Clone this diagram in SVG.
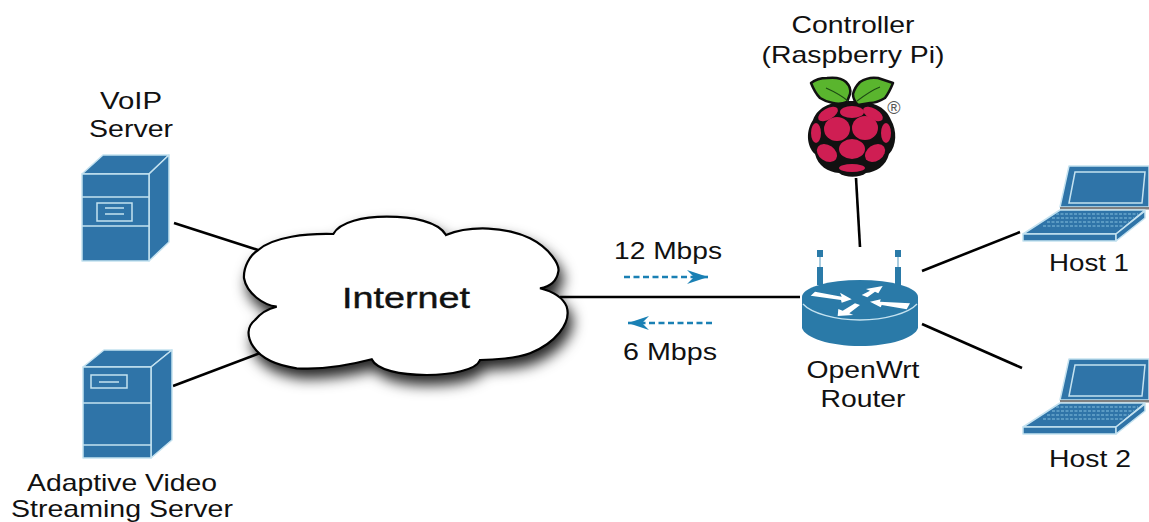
<svg xmlns="http://www.w3.org/2000/svg" width="1149" height="522" viewBox="0 0 1149 522">
<style>
text{font-family:"Liberation Sans",Arial,sans-serif;fill:#111;font-size:24px;text-anchor:middle}
.b{fill:#2f74a8;stroke:#c4e2f0;stroke-width:1.5;stroke-linejoin:round}
.l{fill:none;stroke:#c4e2f0;stroke-width:1.5}
.c{stroke:#000;stroke-width:2.6;fill:none}
.d{stroke:#1a80b4;stroke-width:2.6;fill:none;stroke-dasharray:6 3.5}
.lf{fill:#5ab52e;stroke:#111;stroke-width:2.5;stroke-linejoin:round}
.r{fill:#cf1e53}
.w{fill:#fff}
.t{fill:#2a7aa8}
</style>
<defs>
<filter id="sh" x="-15%" y="-15%" width="130%" height="145%"><feDropShadow dx="4" dy="9" stdDeviation="7" flood-color="#000" flood-opacity=".85"/></filter>
<marker id="ah" markerWidth="24" markerHeight="16" refX="21" refY="8" orient="auto" markerUnits="userSpaceOnUse"><path d="M0 1L21 8L0 15L7 8Z" fill="#1a80b4"/></marker>
<g id="lap">
<path class="b" d="M1069 166H1149V207H1060Z"/>
<path class="l" d="M1075 172H1145L1142 203H1069Z"/>
<path d="M1060 207H1149V209.500H1060Z" fill="#808080"/>
<path class="b" d="M1060 210H1145L1116 234H1023Z"/>
<path d="M1056 214H1138M1052 218H1134M1047 222H1129M1043 226H1124" stroke="#6aa7cb" stroke-width="1.5" stroke-dasharray="3 1.5" fill="none"/>
<path class="b" d="M1023 234H1116V241H1023Z"/>
<path class="b" d="M1116 234L1145 211V218L1116 241Z"/>
</g>
</defs>
<rect width="1149" height="522" fill="#fff"/>
<g id="connectors">
<path class="c" d="M174 223L258 250"/>
<path class="c" d="M173 386L260 353"/>
<path class="c" d="M560 297H800"/>
<path class="c" d="M856 178L860 247"/>
<path class="c" d="M922 271L1020 232"/>
<path class="c" d="M922 324L1022 368"/>
</g>
<g id="internet">
<path d="M258.300 250C273.300 236.700 306.700 233.300 333.300 234C340 221.700 363.300 216.700 386.700 216.700C413.300 216.700 438.300 221.700 446 235C470 225 506.700 226.700 530 238.300C550 248.300 560 265 558.300 271.700C556.700 281.700 550 286.700 540 288.300C553.300 291.700 563.300 298.300 566.700 306.700C571.700 323.300 555 343.300 530 353.300C516.700 358.300 493.300 360 480 360C476.700 370 450 375 426.700 375C400 375 376.700 370 371.700 359.300C350 365 320 370 296.700 368.300C273.300 365 260 356.700 253.300 346.700C246.700 336.700 246.700 326.700 255 320C261.700 311.700 270 308.300 276.700 306.700C263.300 305 246.700 293.300 244 278.300C243.300 266.700 250 255 258.300 250Z" fill="#fff" stroke="#000" stroke-width="2.2" filter="url(#sh)"/>
<text x="406" y="308" style="font-size:29px;stroke:#111;stroke-width:.4" textLength="128" lengthAdjust="spacingAndGlyphs">Internet</text>
</g>
<g id="voip">
<path class="b" d="M82 174L103 155H169L149 174Z"/>
<path class="b" d="M149 174L169 155V242L149 261Z"/>
<path class="b" d="M82 174H149V261H82Z"/>
<path class="l" d="M82 197H149M82 226H149M97 203H132V221H97ZM105 208H124M105 214H124"/>
<text x="131" y="109" textLength="62" lengthAdjust="spacingAndGlyphs">VoIP</text>
<text x="131" y="137" textLength="84" lengthAdjust="spacingAndGlyphs">Server</text>
</g>
<g id="video">
<path class="b" d="M83 367L104 350H172L151 367Z"/>
<path class="b" d="M151 367L172 350V440L151 458Z"/>
<path class="b" d="M83 367H151V458H83Z"/>
<path class="l" d="M83 403H151M83 445H151M91 375H127V388H91ZM99 382H119"/>
<text x="122" y="491" textLength="190" lengthAdjust="spacingAndGlyphs">Adaptive Video</text>
<text x="122" y="517" textLength="222" lengthAdjust="spacingAndGlyphs">Streaming Server</text>
</g>
<g id="controller">
<text x="853" y="33" textLength="123" lengthAdjust="spacingAndGlyphs">Controller</text>
<text x="853" y="63" textLength="183" lengthAdjust="spacingAndGlyphs">(Raspberry Pi)</text>
<path d="M852 101C871 101 886 106 891 120C897 130 897 146 889 154C886 166 876 172 866 173C860 178 845 178 839 173C828 172 818 166 815 154C806 146 806 130 813 120C818 106 833 101 852 101Z" fill="#111"/>
<path class="lf" d="M811 83C816 79 822 78 827 78C836 77 843 79 846 82C850 86 851 90 850 94L847 102C842 104 837 104 833 103C827 102 823 100 820 98C816 94 813 88 811 83Z"/>
<path class="lf" d="M853 94C854 90 857 85 860 82C866 78 872 77 878 78L893 83C891 88 888 94 885 98C880 101 875 103 870 103L858 105C855 102 853 98 853 94Z"/>
<path d="M826 88C835 92 842 96 848 101M880 87C872 90 865 95 857 101" stroke="#1d4a14" stroke-width="1.2" fill="none"/>
<ellipse class="r" cx="852" cy="112" rx="12" ry="6"/>
<ellipse class="r" cx="828" cy="114" rx="11" ry="5.500" transform="rotate(-30 828 114)"/>
<ellipse class="r" cx="873" cy="114" rx="11" ry="5.500" transform="rotate(30 873 114)"/>
<ellipse class="r" cx="837" cy="129" rx="13" ry="12"/>
<ellipse class="r" cx="865" cy="128" rx="13" ry="12"/>
<ellipse class="r" cx="816" cy="133" rx="5" ry="10"/>
<ellipse class="r" cx="886" cy="133" rx="5" ry="10"/>
<ellipse class="r" cx="852" cy="149" rx="13" ry="10"/>
<ellipse class="r" cx="827" cy="153" rx="11" ry="8" transform="rotate(35 827 153)"/>
<ellipse class="r" cx="875" cy="153" rx="11" ry="8" transform="rotate(-35 875 153)"/>
<ellipse class="r" cx="852" cy="168" rx="13" ry="4"/>
<text x="894" y="114" style="font-size:18px;fill:#555">®</text>
</g>
<g id="router">
<path class="t" d="M817 250H823V257H817ZM817 267H823V285H817ZM895 250H901V257H895ZM895 267H901V285H895Z"/>
<path d="M820 257V267M898 257V267" stroke="#8fbdd6" stroke-width="1.5"/>
<path class="t" d="M802 297V328C805 338 830 346 860 346C890 346 915 338 918 328V297Z"/>
<ellipse class="t" cx="860" cy="297" rx="58" ry="17"/>
<path d="M803 304C811 313 835 320 860 320C885 320 909 313 917 304" fill="none" stroke="#c4e2f0" stroke-width="1.3"/>
<path class="w" d="M810.700 295.700L815 291.700L841.700 296.700L840 292.700L851.700 299.300L841.700 302.700L841 300Z"/>
<path class="w" d="M861.700 295L867.300 297.300L875 291.700L878.300 293.300L882.700 286L866 289L870 290.700Z"/>
<path class="w" d="M870 301.700L880.700 299.300L880 301.700L910 303.300L906.700 309.300L881.700 305L880.700 307.300Z"/>
<path class="w" d="M837.700 316L838.300 309L842.700 310.700L855 303.300L860 305L849.300 313.300L853.300 315Z"/>
<text x="863" y="378" textLength="113" lengthAdjust="spacingAndGlyphs">OpenWrt</text>
<text x="863" y="407" textLength="85" lengthAdjust="spacingAndGlyphs">Router</text>
</g>
<g id="host1">
<use href="#lap"/>
<text x="1089" y="271" textLength="80" lengthAdjust="spacingAndGlyphs">Host 1</text>
</g>
<g id="host2">
<use href="#lap" y="193"/>
<text x="1090" y="467" textLength="82" lengthAdjust="spacingAndGlyphs">Host 2</text>
</g>
<g id="rates">
<text x="668" y="259" textLength="108" lengthAdjust="spacingAndGlyphs">12 Mbps</text>
<path class="d" d="M624 277H692"/>
<path d="M692 277H708" stroke="#1a80b4" stroke-width="2.600" marker-end="url(#ah)"/>
<path class="d" d="M712 323H644"/>
<path d="M644 323H628" stroke="#1a80b4" stroke-width="2.600" marker-end="url(#ah)"/>
<text x="670" y="360" textLength="94" lengthAdjust="spacingAndGlyphs">6 Mbps</text>
</g>
</svg>
